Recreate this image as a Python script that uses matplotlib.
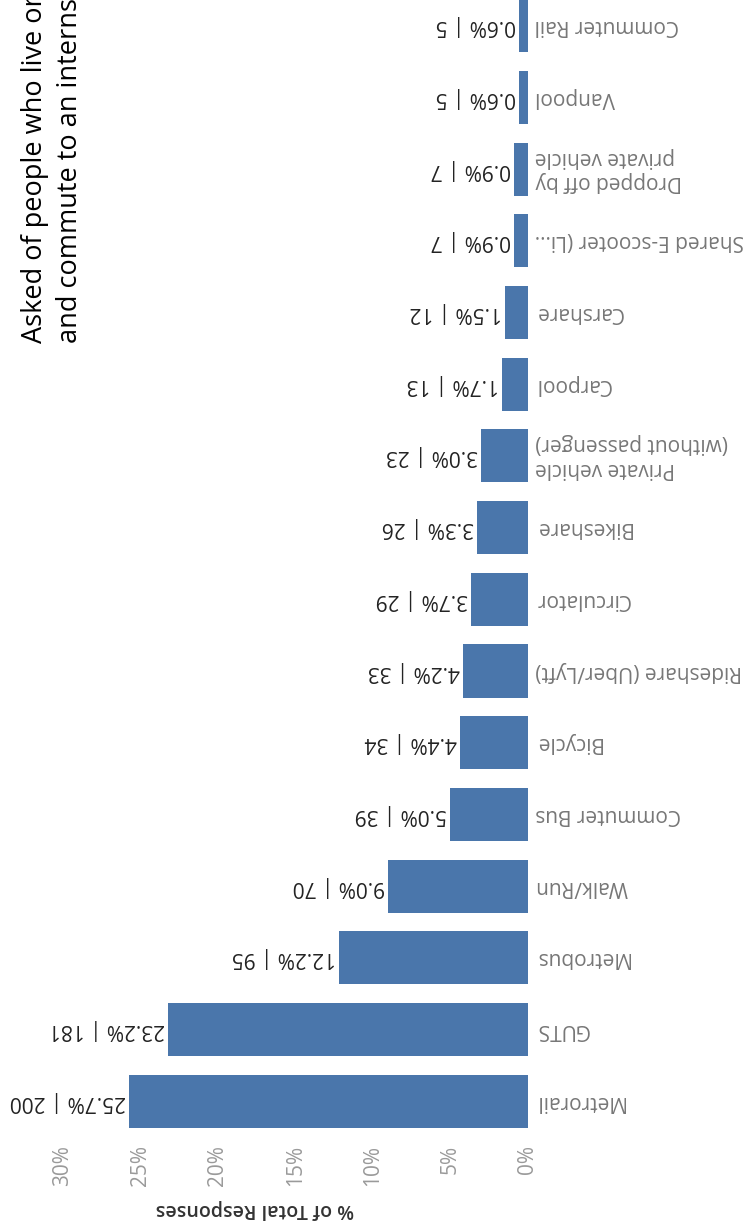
import matplotlib
matplotlib.use("Agg")
import matplotlib.pyplot as plt
from matplotlib.ticker import FixedLocator

# commute modes, listed top to bottom as drawn
modes = [
    "Commuter Rail",
    "Vanpool",
    "Dropped off by\nprivate vehicle",
    "Shared E-scooter (Li...",
    "Carshare",
    "Carpool",
    "Private vehicle\n(without passenger)",
    "Bikeshare",
    "Circulator",
    "Rideshare (Uber/Lyft)",
    "Bicycle",
    "Commuter Bus",
    "Walk/Run",
    "Metrobus",
    "GUTS",
    "Metrorail",
]
pct_total = [0.6, 0.6, 0.9, 0.9, 1.5, 1.7, 3.0, 3.3, 3.7, 4.2, 4.4, 5.0, 9.0, 12.2, 23.2, 25.7]
responses = [5, 5, 7, 7, 12, 13, 23, 26, 29, 33, 34, 39, 70, 95, 181, 200]

x_ticks = [0, 5, 10, 15, 20, 25, 30]
x_tick_labels = ["0%", "5%", "10%", "15%", "20%", "25%", "30%"]

title_lines = [
    "Asked of people who live or work on campus",
    "and commute to an internship or job",
]

plt.rcParams["font.family"] = ["Open Sans", "DejaVu Sans"]

W, H = 744, 1226
fig = plt.figure(figsize=(W / 100, H / 100), dpi=100)
fig.patch.set_facecolor("white")

# axes placed in pixel terms: zero at x=528, 30% near x=61
ax_left, ax_right = 47, 528
ax_top, ax_bottom = 0, 1137
ax = fig.add_axes([ax_left / W, (H - ax_bottom) / H,
                   (ax_right - ax_left) / W, (ax_bottom - ax_top) / H])

bar_color = "#4a76ab"
pos = list(range(len(modes)))
ax.barh(pos, pct_total, height=0.74, color=bar_color)

ax.set_xlim(31, 0)
ax.set_ylim(15.5, -0.36)

for i, (name, p, n) in enumerate(zip(modes, pct_total, responses)):
    ax.annotate(name, xy=(0, i), xytext=(7, 0), textcoords="offset pixels",
                rotation=180, ha="left", va="center", multialignment="right",
                fontsize=15, color="#777777", annotation_clip=False)
    ax.annotate(f"{p:.1f}% | {n}", xy=(p, i), xytext=(-3, 0),
                textcoords="offset pixels", rotation=180, ha="right",
                va="center", fontsize=15, color="#222222",
                annotation_clip=False)

ax.xaxis.set_major_locator(FixedLocator(x_ticks))
ax.set_xticklabels(x_tick_labels, rotation=90, fontsize=15, color="#9a9a9a")
ax.tick_params(axis="x", length=0, pad=6)
ax.set_yticks([])
for s in ax.spines.values():
    s.set_visible(False)

fig.text(255 / W, (H - 1209) / H, "% of Total Responses", rotation=180,
         ha="center", va="center", fontsize=14, fontweight="semibold",
         color="#333333")

# title reads bottom to top along the left edge
for x_px, line in zip([42, 77], title_lines):
    fig.text(x_px / W, (H - 343) / H, line, rotation=90, rotation_mode="anchor",
             ha="left", va="baseline", fontsize=19.5, color="black")

fig.savefig("out.png", dpi=100)
